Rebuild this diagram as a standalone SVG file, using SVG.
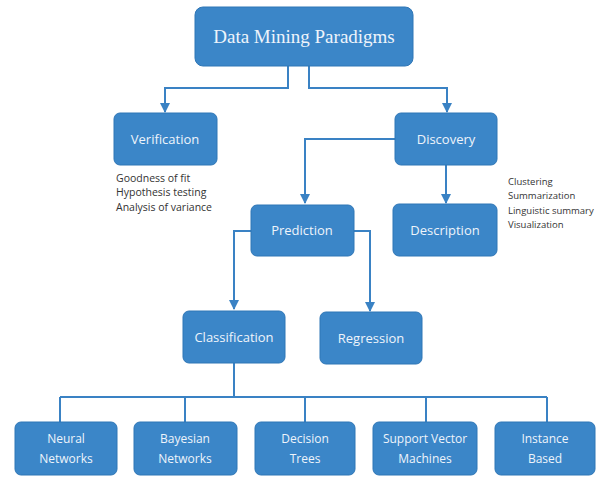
<svg xmlns="http://www.w3.org/2000/svg" width="597" height="477" viewBox="0 0 597 477">
<style>
.box{fill:#3b86c8;stroke:#2f76b6;stroke-width:1}
.lbl{font-family:"Open Sans","DejaVu Sans",sans-serif;font-size:13px;fill:#eef4fb;text-anchor:middle}
.sm{font-family:"Open Sans","DejaVu Sans",sans-serif;font-size:12px;fill:#eef4fb;text-anchor:middle}
.note{font-family:"Open Sans","DejaVu Sans",sans-serif;font-size:10.5px;fill:#333}
.note2{font-family:"Open Sans","DejaVu Sans",sans-serif;font-size:9.5px;fill:#333}
.ln{fill:none;stroke:#3a82c4;stroke-width:2}
</style>
<defs>
<marker id="ah" viewBox="0 0 10 10" refX="9" refY="5" markerWidth="5" markerHeight="5" orient="auto" markerUnits="strokeWidth">
<path d="M0,0 L10,5 L0,10 z" fill="#3a82c4"/>
</marker>
</defs>
<rect width="597" height="477" fill="#ffffff"/>
<g id="connectors">
<path class="ln" d="M288,66 V88 H165 V112" marker-end="url(#ah)"/>
<path class="ln" d="M309,66 V88 H447 V112" marker-end="url(#ah)"/>
<path class="ln" d="M395,139 H305 V203" marker-end="url(#ah)"/>
<path class="ln" d="M446,165 V203" marker-end="url(#ah)"/>
<path class="ln" d="M251,231 H234 V309" marker-end="url(#ah)"/>
<path class="ln" d="M354,231 H370 V311" marker-end="url(#ah)"/>
<path class="ln" stroke-width="1.5" d="M234,363 V397 M60,397 H547 M60,397 V422 M185,397 V422 M305,397 V422 M426,397 V422 M547,397 V422"/>
</g>
<g id="root">
<rect class="box" x="195" y="7" width="218" height="59" rx="8"/>
<text x="304" y="43" font-family="'Liberation Serif',serif" font-size="19" fill="#eef4fb" text-anchor="middle">Data Mining Paradigms</text>
</g>
<g id="verification">
<rect class="box" x="114" y="113" width="103" height="52" rx="6"/>
<text class="lbl" x="165" y="144">Verification</text>
</g>
<g id="verification-notes">
<text class="note" x="116" y="182">Goodness of fit</text>
<text class="note" x="116" y="196">Hypothesis testing</text>
<text class="note" x="116" y="211">Analysis of variance</text>
</g>
<g id="discovery">
<rect class="box" x="395" y="113" width="102" height="52" rx="6"/>
<text class="lbl" x="446" y="144">Discovery</text>
</g>
<g id="prediction">
<rect class="box" x="251" y="205" width="103" height="51" rx="6"/>
<text class="lbl" x="302" y="235">Prediction</text>
</g>
<g id="description">
<rect class="box" x="393" y="204" width="104" height="52" rx="6"/>
<text class="lbl" x="445" y="235">Description</text>
</g>
<g id="description-notes">
<text class="note2" x="508" y="185">Clustering</text>
<text class="note2" x="508" y="199">Summarization</text>
<text class="note2" x="508" y="214">Linguistic summary</text>
<text class="note2" x="508" y="228">Visualization</text>
</g>
<g id="classification">
<rect class="box" x="183" y="311" width="102" height="52" rx="6"/>
<text class="lbl" x="234" y="342">Classification</text>
</g>
<g id="regression">
<rect class="box" x="320" y="312" width="102" height="52" rx="6"/>
<text class="lbl" x="371" y="343">Regression</text>
</g>
<g id="neural">
<rect class="box" x="15" y="422" width="102" height="53" rx="6"/>
<text class="sm" x="66" y="443">Neural</text>
<text class="sm" x="66" y="463">Networks</text>
</g>
<g id="bayesian">
<rect class="box" x="134" y="422" width="103" height="53" rx="6"/>
<text class="sm" x="185" y="443">Bayesian</text>
<text class="sm" x="185" y="463">Networks</text>
</g>
<g id="decision">
<rect class="box" x="255" y="422" width="100" height="53" rx="6"/>
<text class="sm" x="305" y="443">Decision</text>
<text class="sm" x="305" y="463">Trees</text>
</g>
<g id="svm">
<rect class="box" x="373" y="422" width="104" height="53" rx="6"/>
<text class="sm" x="425" y="443">Support Vector</text>
<text class="sm" x="425" y="463">Machines</text>
</g>
<g id="instance">
<rect class="box" x="495" y="422" width="100" height="53" rx="6"/>
<text class="sm" x="545" y="443">Instance</text>
<text class="sm" x="545" y="463">Based</text>
</g>
</svg>
